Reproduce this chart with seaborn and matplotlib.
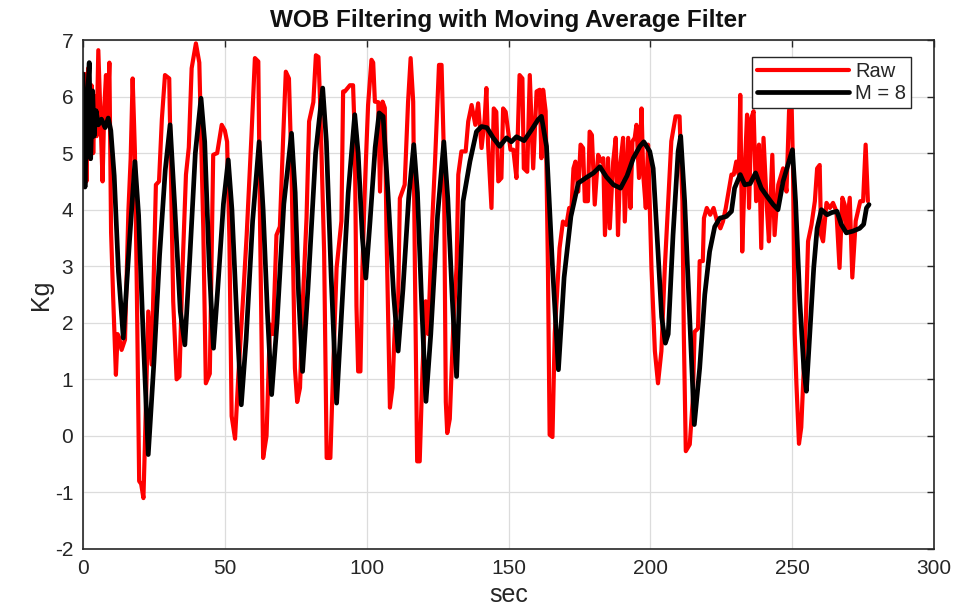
import numpy as np
import pandas as pd
import matplotlib
matplotlib.use("Agg")
import matplotlib.pyplot as plt
import seaborn as sns

# ---- data ----
raw_t = [0, 0.6, 1.2, 1.8, 2.4, 3.0, 3.6, 4.2, 4.8, 5.4, 6.2, 6.9, 7.5, 8.1, 8.6, 9.3, 9.9, 10.6,
         11.6, 12.2, 12.8, 13.6, 14.8, 16.0, 16.8, 17.5, 18.3, 19.0, 19.8, 20.5, 21.3, 21.8, 23.0,
         24.2, 25.7, 26.8, 27.8, 28.9, 30.4, 31.8, 33.0, 34.0, 35.1, 36.3, 37.3, 38.3, 39.8, 41.0,
         42.4, 43.3, 44.7, 45.9, 47.3, 48.9, 50.0, 50.8, 51.6, 52.4, 53.6, 54.8, 56.5, 57.7, 59.4,
         60.6, 61.8, 62.4, 63.5, 64.7, 65.9, 67.0, 68.2, 69.4, 70.6, 71.5, 72.6, 73.5, 74.7, 75.5,
         76.5, 77.6, 78.8, 79.7, 81.2, 82.1, 83.0, 83.6, 85.0, 85.9, 87.2, 88.2, 89.4, 91.1, 91.7,
         92.3, 94.1, 95.2, 95.8, 96.4, 97.0, 97.8, 98.5, 99.4, 100.5, 101.7, 102.3, 102.9, 104.1,
         104.7, 105.6, 106.4, 107.0, 108.2, 109.1, 109.9, 111.1, 111.7, 113.4, 114.6, 115.5, 116.4,
         117.0, 117.8, 118.7, 119.7, 120.8, 121.7, 122.9, 124.1, 125.5, 126.4, 127.2, 127.9, 128.4,
         129.3, 130.5, 131.7, 132.3, 133.4, 134.9, 135.8, 137.0, 138.3, 139.3, 140.5, 141.6, 142.2,
         142.8, 144.0, 144.8, 145.7, 146.4, 147.5, 148.1, 149.0, 149.9, 150.7, 151.7, 152.8, 153.9,
         154.9, 155.4, 156.6, 157.5, 158.7, 159.9, 161.0, 161.6, 162.2, 163.1, 163.9, 164.5, 165.5,
         166.3, 167.1, 168.0, 169.2, 170.4, 171.4, 172.2, 172.9, 173.6, 174.6, 175.4, 176.3, 176.9,
         178.0, 178.6, 179.4, 180.4, 181.6, 182.7, 183.4, 184.0, 185.1, 185.7, 186.9, 187.8, 188.6,
         189.4, 190.4, 191.0, 192.2, 193.0, 193.7, 194.5, 195.1, 196.0, 196.9, 197.5, 198.4, 199.2,
         199.8, 200.4, 201.6, 202.7, 203.9, 205.1, 206.3, 207.4, 208.9, 210.3, 211.3, 211.8, 212.5,
         213.9, 215.0, 215.6, 216.8, 217.4, 218.5, 218.9, 219.9, 221.1, 222.3, 223.5, 224.7, 225.6,
         226.6, 227.4, 228.6, 229.4, 230.3, 231.2, 231.7, 232.4, 233.3, 234.1, 234.8, 235.6, 236.4,
         237.3, 238.3, 239.1, 239.9, 241.1, 241.8, 243.0, 243.8, 245.1, 246.8, 248.0, 248.9, 249.7,
         250.3, 250.9, 251.5, 252.4, 253.2, 254.1, 254.8, 255.6, 256.8, 258.0, 258.8, 259.7, 260.2,
         260.9, 262.1, 263.3, 264.4, 265.6, 266.7, 267.7, 268.5, 269.1, 270.3, 271.2, 272.4, 274.0,
         275.0, 275.9, 276.7]
raw_kg = [4.4, 6.4, 4.5, 6.5, 4.9, 6.2, 5.0, 6.0, 5.3, 6.82, 5.6, 4.5, 5.8, 6.38, 5.5, 6.6, 3.6, 2.5,
          1.08, 1.8, 1.73, 1.52, 1.7, 3.97, 4.9, 6.32, 5.03, 2.5, -0.8, -0.85, -1.1, -0.2, 2.2,
          1.26, 4.44, 4.5, 5.6, 6.38, 6.32, 2.38, 1.0, 1.05, 2.97, 4.62, 5.1, 6.5, 6.94, 6.6,
          3.67, 0.93, 1.1, 4.97, 5.0, 5.5, 5.4, 5.2, 3.5, 0.35, -0.05, 1.1, 2.5, 3.55, 5.32,
          6.68, 6.62, 3.79, -0.39, 0.0, 1.97, 1.8, 3.55, 3.7, 5.32, 6.44, 6.32, 4.73, 1.2, 0.6,
          0.85, 2.5, 3.85, 5.56, 5.9, 6.73, 6.7, 5.9, 3.26, -0.39, -0.39, 1.2, 2.97, 3.8, 6.09,
          6.09, 6.2, 6.2, 5.32, 2.3, 1.14, 1.14, 2.97, 4.44, 5.85, 6.65, 6.6, 5.91, 5.9,
          4.32, 5.91, 5.8, 3.55, 0.5, 0.85, 1.9, 2.38, 4.2, 4.44, 5.91, 6.68, 5.91,
          2.97, -0.45, -0.45, 1.2, 2.38, 1.8, 3.55, 4.85, 6.56, 6.56, 5.03, 0.6, 0.05,
          0.3, 1.9, 3.0, 4.62, 5.03, 5.03, 5.56, 5.85, 5.5, 5.88, 5.09, 5.6, 6.15,
          5.15, 4.03, 5.79, 5.73, 4.5, 4.56, 5.79, 5.73, 5.38, 5.06, 5.06, 4.56, 6.38,
          6.32, 4.73, 4.67, 6.38, 4.73, 6.09, 6.12, 4.91, 6.12, 5.74, 2.97, 0.02, -0.02,
          1.81, 2.5, 3.32, 3.79, 3.73, 4.03, 4.03, 4.73, 4.85, 4.32, 5.15, 5.09, 4.15,
          4.15, 5.38, 5.32, 4.09, 4.97, 4.85, 4.91, 3.55, 4.91, 3.67, 4.85, 5.27, 3.55,
          4.8, 5.27, 3.79, 5.27, 4.03, 5.21, 5.27, 5.5, 4.56, 5.79, 4.62, 4.03, 5.15,
          4.03, 2.97, 1.5, 0.93, 1.5, 2.97, 4.15, 5.21, 5.65, 5.65, 4.15, 1.81, -0.27,
          -0.15, 0.67, 1.84, 1.9, 3.09, 3.09, 3.85, 4.03, 3.91, 4.03, 3.8, 3.67, 3.79,
          4.03, 4.27, 4.62, 4.62, 4.85, 4.62, 6.03, 3.26, 4.73, 5.68, 4.03, 5.62, 5.74,
          4.15, 5.15, 3.32, 5.27, 4.03, 3.44, 4.97, 3.55, 4.44, 4.73, 4.32, 5.74, 6.1,
          4.73, 1.81, 0.92, -0.14, 0.15, 1.2, 2.02, 3.44, 3.73, 4.15, 4.73, 4.79, 3.55,
          3.44, 4.12, 4.03, 4.12, 3.97, 2.97, 4.21, 4.09, 3.62, 4.21, 2.8, 3.8, 4.15,
          4.15, 5.15, 4.15]

ma_t = [0, 0.7, 1.5, 2.2, 2.7, 3.4, 3.9, 4.6, 5.4, 6.5, 7.8, 8.9, 9.8, 11.0, 12.5, 14.2, 16.2,
        18.3, 19.6, 21.2, 23.0, 25.0, 27.0, 29.0, 30.7, 32.4, 34.3, 35.9, 37.6, 39.6, 41.6, 42.9,
        44.5, 46.0, 47.5, 49.5, 51.2, 52.5, 54.3, 55.8, 57.5, 59.8, 62.1, 63.5, 65.0, 66.5, 68.4,
        70.8, 73.5, 74.8, 76.0, 77.4, 79.3, 82.0, 84.5, 85.8, 87.5, 89.4, 91.2, 93.5, 95.8, 97.0,
        98.5, 99.7, 101.2, 103.0, 104.4, 105.8, 107.5, 109.5, 111.1, 112.8, 114.8, 116.6, 117.9,
        119.5, 120.9, 122.6, 125.0, 127.2, 128.6, 130.2, 131.7, 132.8, 134.0, 136.4, 138.7, 140.5,
        142.4, 144.6, 146.9, 149.3, 151.0, 152.8, 155.5, 158.1, 160.4, 161.6, 163.4, 165.5, 167.6,
        169.6, 172.0, 174.6, 177.5, 180.0, 182.2, 184.5, 187.0, 189.5, 191.8, 194.0, 196.3, 197.7,
        199.8, 201.0, 202.7, 204.0, 205.3, 206.3, 208.0, 209.8, 210.7, 212.1, 213.9, 215.5, 217.4,
        219.2, 220.9, 222.7, 224.5, 226.8, 228.6, 229.7, 231.7, 233.3, 235.2, 237.1, 239.1, 241.5,
        243.3, 245.0, 246.8, 248.5, 250.1, 251.2, 252.7, 254.1, 255.0, 256.2, 257.6, 258.8, 260.3,
        262.3, 264.0, 265.8, 267.3, 269.1, 271.4, 273.8, 275.2, 276.2, 277.1]
ma_kg = [6.4, 4.4, 5.9, 6.6, 4.9, 6.1, 5.3, 5.75, 5.5, 5.6, 5.45, 5.62, 5.4, 4.6, 2.9, 1.73, 3.3,
         4.85, 3.9, 1.8, -0.33, 1.3, 3.2, 4.7, 5.5, 4.0, 2.2, 1.61, 3.1, 5.0, 5.97, 5.2,
         3.0, 1.55, 2.6, 4.1, 4.88, 4.0, 2.0, 0.55, 1.7, 3.8, 5.2, 4.0, 2.2, 0.73, 2.0,
         4.1, 5.35, 4.3, 2.5, 1.14, 2.6, 5.0, 6.15, 5.2, 2.8, 0.58, 2.2, 4.3, 5.68, 5.0,
         3.5, 2.79, 3.8, 5.1, 5.71, 5.65, 4.3, 2.5, 1.5, 2.6, 4.2, 5.15, 4.3,
         2.2, 0.61, 1.8, 3.9, 5.2, 4.2, 2.4, 1.05, 2.6, 4.15, 4.85, 5.38, 5.47,
         5.45, 5.27, 5.12, 5.27, 5.2, 5.29, 5.22, 5.41, 5.59, 5.65, 5.12, 3.0, 1.17,
         2.8, 3.88, 4.47, 4.57, 4.65, 4.76, 4.58, 4.44, 4.38, 4.6, 4.91, 5.12, 5.2,
         5.03, 4.73, 3.26, 2.1, 1.64, 1.8, 3.55, 5.03, 5.3, 4.15, 2.08, 0.2, 1.2,
         2.5, 3.26, 3.7, 3.85, 3.88, 3.97, 4.38, 4.62, 4.44, 4.46, 4.65, 4.38, 4.21,
         4.09, 4.0, 4.5, 4.79, 5.06, 4.15, 2.38, 1.2, 0.79, 1.79, 2.97, 3.67, 4.0,
         3.91, 3.95, 3.97, 3.74, 3.59, 3.62, 3.67, 3.74, 4.03, 4.09]

x_ticks = [0, 50, 100, 150, 200, 250, 300]
y_ticks = [-2, -1, 0, 1, 2, 3, 4, 5, 6, 7]
series_labels = ["Raw", "M = 8"]
title_text = "WOB Filtering with Moving Average Filter"
x_label = "sec"
y_label = "Kg"

# ---- plotting ----
sns.set_theme(style="white")
plt.rcParams["font.family"] = ["Liberation Sans", "DejaVu Sans"]
plt.rcParams["axes.unicode_minus"] = False

fig = plt.figure(figsize=(9.68, 6.11), dpi=100)
ax = fig.add_axes([83 / 968, 1 - 549 / 611, (934 - 83) / 968, (549 - 40) / 611])

raw_df = pd.DataFrame({"t": raw_t, "kg": raw_kg})
ma_df = pd.DataFrame({"t": ma_t, "kg": ma_kg})

sns.lineplot(data=raw_df, x="t", y="kg", ax=ax, color="#ff0000", linewidth=3.0,
             estimator=None, sort=False, label=series_labels[0])
sns.lineplot(data=ma_df, x="t", y="kg", ax=ax, color="#000000", linewidth=3.4,
             estimator=None, sort=False, label=series_labels[1])
for ln in ax.get_lines():
    ln.set_solid_joinstyle("round")
    ln.set_solid_capstyle("round")

ax.set_xlim(0, 300)
ax.set_ylim(-2, 7)
ax.set_xticks(x_ticks)
ax.set_yticks(y_ticks)
ax.grid(True, color="#dcdcdc", linewidth=0.9)
ax.set_axisbelow(True)
for s in ax.spines.values():
    s.set_visible(True)
    s.set_color("#262626")
    s.set_linewidth(1.2)
ax.tick_params(direction="in", length=5, width=1, colors="#262626", labelsize=15,
               top=True, right=True, labelcolor="#262626")
ax.tick_params(axis="x", pad=7)
ax.tick_params(axis="y", pad=7)

ax.set_title(title_text, fontsize=17.5, fontweight="bold", color="#111111", pad=9)
ax.set_xlabel(x_label, fontsize=18, color="#262626", labelpad=4)
ax.set_ylabel(y_label, fontsize=18, color="#262626", labelpad=1)

leg = ax.legend(loc="upper right", bbox_to_anchor=(0.9735, 0.967), fontsize=14.5,
                handlelength=4.6, frameon=True, fancybox=False, borderpad=0.25,
                labelspacing=0.15, handletextpad=0.3, borderaxespad=0)
leg.get_frame().set_edgecolor("#262626")
leg.get_frame().set_linewidth(1.0)
leg.get_frame().set_alpha(1)

fig.savefig("out.png", dpi=100)
